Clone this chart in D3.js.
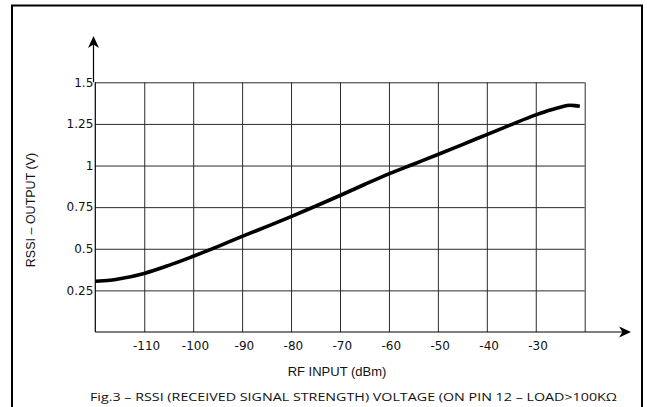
<!DOCTYPE html>
<html>
<head>
<meta charset="utf-8">
<script src="https://cdn.jsdelivr.net/npm/d3@7"></script>
<style>
body { margin: 0; background: #fff; }
svg { display: block; }
</style>
</head>
<body>
<svg width="647" height="407"></svg>
<script>
// RF input (dBm) and RSSI output (V)
var rfInput = [-120, -117, -115, -110, -105, -100, -95, -90, -85, -80, -75, -70, -65,
  -60, -55, -50, -45, -40, -35, -30, -27, -25, -23, -22, -21];
var rssiOut = [0.305, 0.311, 0.32, 0.352, 0.4, 0.455, 0.513, 0.574, 0.633, 0.693, 0.756, 0.82, 0.886,
  0.95, 1.008, 1.066, 1.126, 1.186, 1.246, 1.304, 1.334, 1.35, 1.362, 1.36, 1.356];

var xTicks = [-110, -100, -90, -80, -70, -60, -50, -40, -30, -20];
var yTicks = [0.25, 0.5, 0.75, 1, 1.25, 1.5];

var svg = d3.select("svg");

var pLeft = 95.3, pRight = 584.7, pTop = 82.3, pBottom = 332;

var xScale = d3.scaleLinear().domain([-120, -20]).range([pLeft, pRight]);
var yScale = d3.scaleLinear().domain([0, 1.5]).range([pBottom, pTop]);

// outer frame
svg.append("path")
  .attr("d", "M12,410 V5.5 H642 V410")
  .attr("fill", "none")
  .attr("stroke", "#000")
  .attr("stroke-width", 2);

// x grid + tick labels
var gx = svg.append("g")
  .attr("transform", "translate(0," + pBottom + ")")
  .call(d3.axisBottom(xScale)
    .tickValues(xTicks)
    .tickSizeInner(-(pBottom - pTop))
    .tickSizeOuter(0)
    .tickPadding(9)
    .tickFormat(function (d) { return d === -20 ? "" : String(d); }));
gx.select(".domain").remove();
gx.selectAll(".tick line").attr("stroke", "#2a2a2a").attr("stroke-width", 1);
gx.selectAll(".tick text")
  .attr("fill", "#111")
  .style("font-family", "DejaVu Sans")
  .style("font-size", "12px")
  .attr("dx", "0.15em");

// y grid + tick labels
var gy = svg.append("g")
  .attr("transform", "translate(" + pLeft + ",0)")
  .call(d3.axisLeft(yScale)
    .tickValues(yTicks)
    .tickSizeInner(-(pRight - pLeft))
    .tickSizeOuter(0)
    .tickPadding(2)
    .tickFormat(function (d) { return String(d); }));
gy.select(".domain").remove();
gy.selectAll(".tick line").attr("stroke", "#2a2a2a").attr("stroke-width", 1);
gy.selectAll(".tick text")
  .attr("fill", "#111")
  .style("font-family", "DejaVu Sans")
  .style("font-size", "12px");

// axis lines with arrows
svg.append("line")
  .attr("x1", pLeft).attr("x2", pLeft)
  .attr("y1", pTop).attr("y2", pBottom)
  .attr("stroke", "#000").attr("stroke-width", 1.2);
svg.append("line")
  .attr("x1", 93.5).attr("x2", 93.5)
  .attr("y1", 44).attr("y2", pTop)
  .attr("stroke", "#000").attr("stroke-width", 1.2);
svg.append("path")
  .attr("d", "M93.5,36 L88,48 L93.5,44.5 L99,48 Z")
  .attr("fill", "#000");

svg.append("line")
  .attr("x1", pLeft).attr("x2", 624)
  .attr("y1", pBottom).attr("y2", pBottom)
  .attr("stroke", "#000").attr("stroke-width", 1.2);
svg.append("path")
  .attr("d", "M631,332 L619,326.5 L622.5,332 L619,337.5 Z")
  .attr("fill", "#000");

// curve
var pts = rfInput.map(function (d, i) { return [d, rssiOut[i]]; });
var line = d3.line()
  .x(function (d) { return xScale(d[0]); })
  .y(function (d) { return yScale(d[1]); })
  .curve(d3.curveMonotoneX);

svg.append("path")
  .datum(pts)
  .attr("d", line)
  .attr("fill", "none")
  .attr("stroke", "#000")
  .attr("stroke-width", 3.6)
  .attr("stroke-linecap", "butt");

// labels
svg.append("text")
  .attr("transform", "translate(35,210) rotate(-90)")
  .attr("text-anchor", "middle")
  .style("font-family", "Liberation Sans")
  .style("font-size", "12.5px")
  .attr("fill", "#111")
  .text("RSSI \u2013 OUTPUT (V)");

svg.append("text")
  .attr("x", 337).attr("y", 376)
  .attr("text-anchor", "middle")
  .style("font-family", "Liberation Sans")
  .style("font-size", "13px")
  .attr("fill", "#111")
  .text("RF INPUT (dBm)");

svg.append("text")
  .attr("x", 90).attr("y", 401)
  .attr("textLength", 527)
  .attr("lengthAdjust", "spacingAndGlyphs")
  .style("font-family", "Open Sans")
  .style("font-size", "11.5px")
  .attr("fill", "#111")
  .text("Fig.3 \u2013 RSSI (RECEIVED SIGNAL STRENGTH) VOLTAGE (ON PIN 12 \u2013 LOAD>100K\u03A9");
</script>
</body>
</html>
